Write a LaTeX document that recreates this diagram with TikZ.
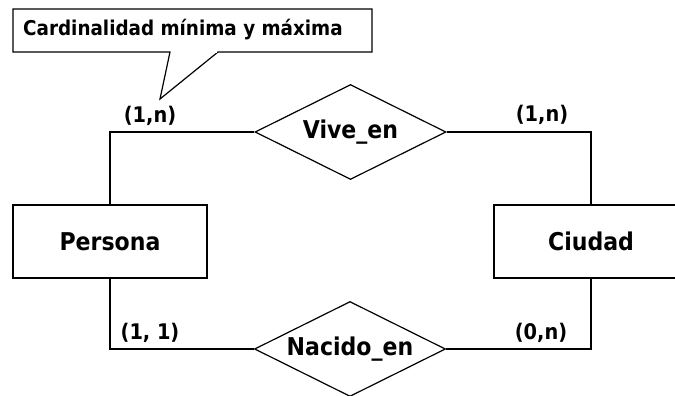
\documentclass[tikz,border=0pt]{standalone}
\usepackage{fontspec}
\setmainfont{DejaVu Sans Condensed}
\usetikzlibrary{shapes.geometric}
\tikzset{
  ln/.style={line width=1.2pt, draw=black},
  entity/.style={ln, rectangle, minimum width=194pt, minimum height=73pt, inner sep=0pt,
    font=\fontsize{24.5}{28}\selectfont\bfseries},
  rel/.style={ln, diamond, aspect=2, minimum width=191pt, minimum height=95pt, inner sep=0pt,
    font=\fontsize{24.5}{28}\selectfont\bfseries},
  card/.style={inner sep=0pt, font=\fontsize{21.5}{25}\selectfont\bfseries},
  notetext/.style={inner sep=0pt, font=\fontsize{20.4}{24}\selectfont\bfseries}
}
\begin{document}
\begin{tikzpicture}[x=1pt, y=-1pt]
\useasboundingbox (0,0) rectangle (675,396);
% entities and relationships
\node[entity] (persona) at (110,241.5) {Persona};
\node[entity] (ciudad) at (591,241.5) {Ciudad};
\node[rel, fill=white] (vive) at (350.5,132) {Vive\_en};
\node[rel, fill=white] (nacido) at (350,349) {Nacido\_en};
% connectors
\draw[ln] (persona.north) |- (vive.west);
\draw[ln] (vive.east) -| (ciudad.north);
\draw[ln] (persona.south) |- (nacido.west);
\draw[ln] (nacido.east) -| (ciudad.south);
% cardinalities
\node[card] (c1) at (150,116) {(1,n)};
\node[card] (c2) at (542,115) {(1,n)};
\node[card] (c3) at (150,333) {(1, 1)};
\node[card] (c4) at (541,333) {(0,n)};
% callout
\coordinate (bl) at (13,52);
\coordinate (tl) at (13,9);
\coordinate (tr) at (372,9);
\coordinate (br) at (372,52);
\coordinate (p1) at (170,52);
\coordinate (p2) at (218,52);
\coordinate (tip) at (160,99);
\draw[ln, line join=miter] (p1) -- (bl) -- (tl) -- (tr) -- (br) -- (p2) -- (tip) -- cycle;
\draw[white, line width=1.8pt] ([xshift=0.9pt]p1) -- ([xshift=-0.9pt]p2);
\node[notetext, anchor=base west] (note) at (23,35.5) {Cardinalidad mínima y máxima};
\end{tikzpicture}
\end{document}
